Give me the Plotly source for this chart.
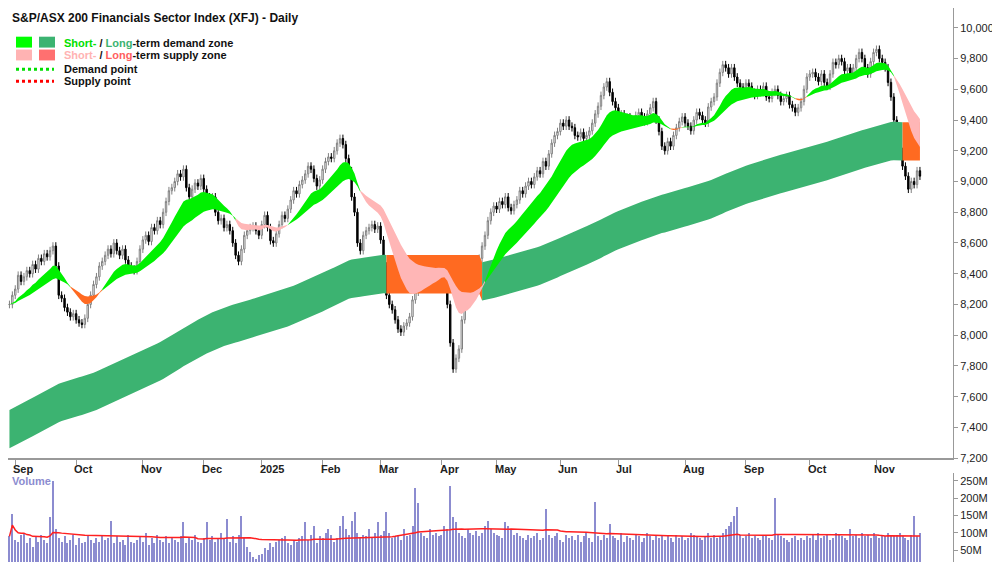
import numpy as np
import pandas as pd
import plotly.graph_objects as go

# daily closes (29 Aug 2024 -> Nov 2025)
closes = [
    8200, 8260, 8300, 8390, 8350, 8380, 8420, 8400, 8460, 8430, 8500, 8480, 8530, 8510, 8550, 8580,
    8450, 8260, 8240, 8180, 8150, 8120, 8140, 8100, 8080, 8070, 8110,
    8200, 8260, 8330, 8380, 8450, 8480, 8520,
    8560, 8530, 8600, 8550, 8520, 8560, 8490, 8450, 8430, 8420,
    8480, 8560, 8620, 8650, 8610, 8700, 8680, 8745, 8720, 8800, 8870, 8940, 8960, 9000,
    9050, 9030, 9080, 8960, 8900, 8950, 8990, 8970, 9020, 8950, 8900, 8870, 8900, 8800, 8745,
    8760, 8700, 8720, 8680, 8600, 8520, 8480, 8560, 8650, 8680, 8700, 8710,
    8680, 8650, 8720, 8780, 8700, 8615, 8600, 8660, 8720, 8780, 8760, 8820, 8880, 8940, 8920, 8980, 9010,
    9050, 9100, 9080, 9020, 8970, 9010, 9080, 9130, 9160, 9150, 9200, 9250, 9280, 9240,
    9150, 9070, 8900, 8800, 8600, 8550, 8650, 8680, 8700, 8720, 8690, 8710, 8620, 8450, 8260,
    8200, 8165, 8100, 8040, 8020, 8060, 8080, 8120, 8230, 8280, 8330, 8350, 8390, 8410, 8380, 8420, 8400, 8450, 8470,
    8400, 8200, 7950, 7780, 7850, 7910, 8100, 8260, 8220, 8290, 8350, 8420, 8500, 8580,
    8650, 8745, 8800, 8840, 8820, 8870, 8850, 8900, 8830, 8810, 8850, 8880, 8940, 8920, 8970, 9000, 8980,
    9030, 9070, 9050, 9130, 9100, 9180, 9250, 9300, 9325, 9380, 9360, 9400, 9360, 9350,
    9300, 9290, 9320, 9280, 9300, 9330, 9380, 9440, 9490, 9560, 9615, 9650, 9580, 9520,
    9480, 9420, 9440, 9400, 9420, 9380, 9400, 9430, 9450, 9420, 9390, 9440, 9480, 9520, 9400, 9325, 9230,
    9200, 9260, 9230, 9300, 9350, 9390, 9420, 9380, 9360, 9330, 9400, 9450, 9430, 9400, 9380, 9485, 9520,
    9550, 9640, 9710, 9760, 9740, 9700, 9740, 9680, 9640, 9615, 9600, 9640, 9620, 9580,
    9560, 9600, 9580, 9620, 9550, 9540, 9580, 9600, 9560, 9520, 9540, 9560, 9500, 9480, 9450, 9480, 9520,
    9600, 9680, 9700, 9710, 9680, 9650, 9700, 9645, 9620, 9700, 9775, 9760, 9800, 9780, 9720, 9740, 9700,
    9740, 9800, 9840, 9800, 9740, 9700, 9780, 9840, 9860, 9800, 9775, 9740, 9645, 9550,
    9400, 9290, 9195, 9100, 9035, 8950, 9000, 8980, 9070, 9035,
]

# volume in millions
volume = [
    90, 155, 80, 75, 95, 100, 70, 85, 60, 90, 75, 95, 80, 70, 145, 250,
    110, 85, 75, 90, 70, 80, 95, 65, 85, 70, 75,
    90, 80, 70, 85, 75, 95, 80,
    85, 135, 70, 90, 75, 80, 65, 95, 75, 70,
    80, 90, 75, 100, 65, 85, 70, 95, 80, 75, 90, 70, 85, 80,
    75, 90, 130, 70, 85, 80, 95, 75, 70, 85, 130, 80, 90, 75, 85,
    100, 85, 140, 75, 90, 70, 95, 150, 85, 60, 45, 30,
    25, 35, 40, 55, 50, 70, 60, 75, 80, 85, 90, 70, 65, 80, 75, 85, 90,
    130, 80, 95, 120, 70, 90, 85, 100, 110, 95, 75, 85, 120, 150,
    110, 95, 135, 160, 100, 85, 95, 90, 110, 85, 100, 130, 95, 105, 160,
    100, 85, 90, 95, 80, 110, 90, 95, 120, 230, 185, 100, 90, 85, 110, 95, 100, 90, 95,
    120, 110, 235, 145, 130, 100, 90, 85, 110, 100, 95, 105, 90, 100,
    120, 135, 110, 100, 95, 90, 85, 130, 120, 110, 95, 100, 90, 85, 80, 95, 85,
    90, 100, 80, 85, 170, 95, 85, 90, 100, 80, 75, 95, 85, 90,
    80, 95, 75, 90, 100, 85, 75, 190, 90, 80, 95, 85, 125, 90,
    85, 80, 100, 75, 90, 85, 80, 95, 90, 75, 85, 100, 90, 80, 95, 85, 90,
    80, 90, 85, 75, 95, 85, 90, 80, 85, 100, 95, 90, 85, 80, 90, 100, 85,
    95, 85, 90, 100, 110, 120, 130, 150, 175, 95, 85, 90, 100, 85,
    90, 85, 80, 95, 90, 85, 80, 200, 95, 90, 85, 80, 75, 85, 90, 80, 85,
    80, 90, 85, 95, 80, 100, 85, 90, 95, 80, 85, 100, 95, 90, 85, 80, 110,
    90, 95, 85, 100, 90, 95, 85, 100, 90, 85, 95, 90, 100, 95,
    90, 95, 100, 90, 85, 80, 95, 150, 90, 100,
]

holidays = ["2024-12-25", "2024-12-26", "2025-01-01", "2025-01-27", "2025-04-18",
            "2025-04-21", "2025-04-25", "2025-06-09"]
price_ticks = list(range(7200, 10001, 200))
vol_ticks = [50, 100, 150, 200, 250]

n = len(closes)
dates = pd.date_range("2024-08-29", periods=n, freq=pd.offsets.CustomBusinessDay(holidays=holidays))
x = np.arange(n)
c = np.array(closes, float)
o = np.r_[c[0], c[:-1]]
wick = 25
hi = np.maximum(o, c) + wick
lo = np.minimum(o, c) - wick


def ema(v, span, seed=None):
    a = 2 / (span + 1)
    out = np.empty(len(v))
    prev = v[0] if seed is None else seed
    for i, val in enumerate(v):
        prev = prev + a * (val - prev)
        out[i] = prev
    return out


# long-term zone: slow EMA band, frozen while price sits in supply
mid = ema(c, 190, seed=7380)
lu, ll = mid + 125, mid - 125
lstate = np.zeros(n, bool)
fu, fl = lu.copy(), ll.copy()
sup = False
for i in range(n):
    if not sup and c[i] < ll[i]:
        sup, ku, kl = True, lu[i], ll[i]
    elif sup and c[i] > ku:
        sup = False
    if sup:
        fu[i], fl[i] = ku, kl
    lstate[i] = sup

# short-term zone
f1, f2 = ema(c, 14), ema(c, 30)
su, sl = np.maximum(f1, f2), np.minimum(f1, f2)
sstate = f1 < f2


def runs(state):
    out, start = [], 0
    for i in range(1, n + 1):
        if i == n or state[i] != state[start]:
            out.append((start, i, state[start]))
            start = i
    return out


fig = go.Figure()


def band(up, dn, a, b, color):
    b2 = min(b + 1, n)
    fig.add_trace(go.Scatter(x=x[a:b2], y=dn[a:b2], mode="lines", line=dict(width=0),
                             hoverinfo="skip", showlegend=False))
    fig.add_trace(go.Scatter(x=x[a:b2], y=up[a:b2], mode="lines", line=dict(width=0),
                             fill="tonexty", fillcolor=color, hoverinfo="skip", showlegend=False))


for a, b, s in runs(lstate):
    band(fu, fl, a, b, "#FF6A21" if s else "#3CB371")
for a, b, s in runs(sstate):
    if s:
        band(su, sl, a, b, "#FFB6B6" if (b - a >= 12 or b == n) else "#FF6A21")
    else:
        band(su, sl, a, b, "#00F000")

fig.add_trace(go.Candlestick(
    x=x, open=o, high=hi, low=lo, close=c, whiskerwidth=0,
    increasing=dict(fillcolor="white", line=dict(color="#808080", width=1)),
    decreasing=dict(fillcolor="black", line=dict(color="black", width=1)),
    showlegend=False, xaxis="x", yaxis="y"))

fig.add_trace(go.Bar(x=x, y=volume, marker=dict(color="#8C8CD0", line=dict(width=0)),
                     width=0.35, xaxis="x2", yaxis="y2", showlegend=False))
vma = pd.Series(volume, dtype=float).rolling(50, min_periods=1).mean()
fig.add_trace(go.Scatter(x=x, y=vma, mode="lines", line=dict(color="#FF2020", width=1.5),
                         xaxis="x2", yaxis="y2", showlegend=False))

# month ticks
month_idx = [i for i in range(1, n) if dates[i].month != dates[i - 1].month]
month_lab = [("2025" if dates[i].month == 1 else dates[i].strftime("%b")) for i in month_idx]

xr = [-0.5, 325.4]
font = "Liberation Sans, Arial, sans-serif"
fig.update_layout(
    width=1000, height=562, margin=dict(l=0, r=0, t=0, b=0),
    plot_bgcolor="white", paper_bgcolor="white", font=dict(family=font, size=11, color="#222"),
    xaxis=dict(domain=[0, 0.945], range=xr, rangeslider=dict(visible=False), showgrid=False,
               tickvals=month_idx, ticktext=[""] * len(month_idx), ticks="outside", ticklen=5,
               tickcolor="#999", showline=True, linecolor="#999", linewidth=2, anchor="y"),
    yaxis=dict(domain=[0.1904, 1], range=[7200, 10129], side="right", tickvals=price_ticks,
               tickformat=",d", showgrid=False, showline=True, linecolor="#999", ticks="outside",
               ticklen=4, tickcolor="#999", tickfont=dict(size=11), anchor="x"),
    xaxis2=dict(domain=[0, 0.945], range=xr, showticklabels=False, showgrid=False, anchor="y2",
                showline=False),
    yaxis2=dict(domain=[0, 0.1637], range=[10, 273], side="right", tickvals=vol_ticks,
                ticktext=[f"{v}M" for v in vol_ticks], showgrid=False, showline=True,
                linecolor="#999", ticks="outside", ticklen=4, tickcolor="#999", anchor="x2"),
    bargap=0,
)

for i, lab in zip(month_idx, month_lab):
    fig.add_annotation(x=i, y=0.1904, xref="x", yref="paper", text=f"<b>{lab}</b>", showarrow=False,
                       xanchor="left", yanchor="top", yshift=-3, xshift=-4, font=dict(size=11, color="#222"))

fig.add_annotation(x=0.002, y=0.999, xref="paper", yref="paper", xanchor="left", yanchor="top",
                   text="<b>S&P/ASX 200 Financials Sector Index (XFJ) - Daily</b>", showarrow=False,
                   font=dict(size=12, color="#111"))
fig.add_annotation(x=0.002, y=0.1637, xref="paper", yref="paper", xanchor="left", yanchor="top",
                   text="<b>Volume</b>", showarrow=False, font=dict(size=11, color="#8C8CD0"))


def px2paper(yp):
    return 1 - yp / 562


legend_rows = [
    (35, "#00FF00", "#3CB371",
     "<b><span style='color:#00E000'>Short-</span> / <span style='color:#3CB371'>Long</span>-term demand zone</b>"),
    (48, "#FFB3B3", "#FF7070",
     "<b><span style='color:#FFB3B3'>Short-</span> / <span style='color:#FF6060'>Long</span>-term supply zone</b>"),
]
for yp, c1, c2, txt in legend_rows:
    for x0, col in ((8, c1), (31, c2)):
        fig.add_shape(type="rect", xref="paper", yref="paper", x0=x0 / 1000, x1=(x0 + 16) / 1000,
                      y0=px2paper(yp + 5), y1=px2paper(yp - 6), fillcolor=col, line=dict(width=0))
    fig.add_annotation(x=54 / 1000, y=px2paper(yp), xref="paper", yref="paper", xanchor="left",
                       yanchor="middle", text=txt, showarrow=False, font=dict(size=11, color="#111"))
for yp, col, txt in ((62, "#00E000", "Demand point"), (74, "#FF0000", "Supply point")):
    fig.add_shape(type="line", xref="paper", yref="paper", x0=8 / 1000, x1=46 / 1000,
                  y0=px2paper(yp), y1=px2paper(yp), line=dict(color=col, width=3, dash="dot"))
    fig.add_annotation(x=54 / 1000, y=px2paper(yp), xref="paper", yref="paper", xanchor="left",
                       yanchor="middle", text=f"<b>{txt}</b>", showarrow=False,
                       font=dict(size=11, color="#111"))

fig.write_html("out.html")
